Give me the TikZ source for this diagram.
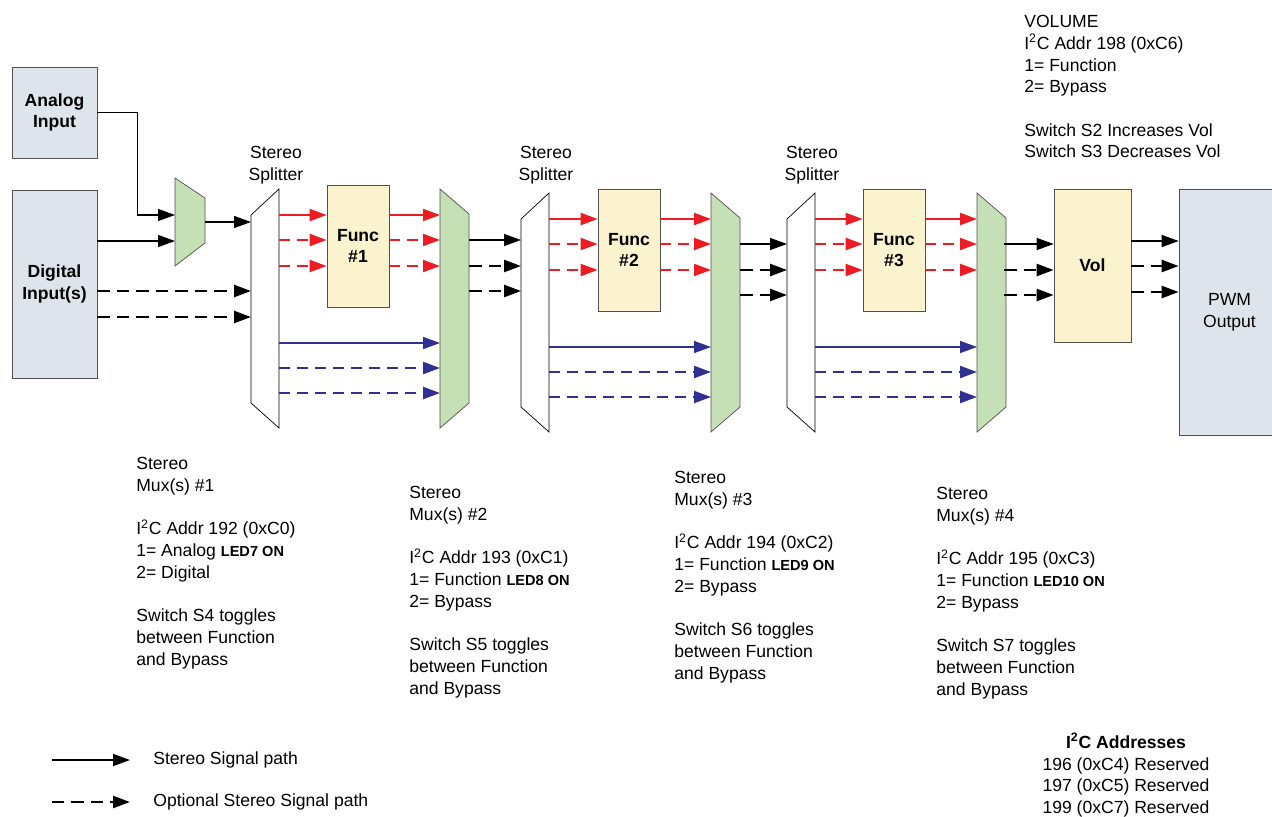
\documentclass[tikz,border=0pt]{standalone}
\usepackage{fontspec}
\setmainfont{Liberation Sans}
\usepackage{tikz}
\usetikzlibrary{arrows.meta}
\tikzset{>={Triangle[length=0.34cm,width=0.24cm]}}
\definecolor{inblue}{RGB}{221,228,236}
\definecolor{muxgreen}{RGB}{197,224,180}
\definecolor{funcyel}{RGB}{250,243,206}
\definecolor{sigred}{RGB}{237,28,36}
\definecolor{sigblue}{RGB}{46,49,146}
\definecolor{boxline}{RGB}{80,80,80}
\newcommand{\tenpt}{\fontsize{10}{12.36}\selectfont}
\newcommand{\ledon}[1]{{\fontsize{8.3}{9}\selectfont\bfseries LED#1 ON}}
\newcommand{\iic}{I\textsuperscript{2}C}

\begin{document}
\begin{tikzpicture}[x=0.02cm, y=-0.02cm, font=\tenpt]

  \tikzset{inbox/.style={draw=boxline, fill=inblue, inner sep=0pt, align=center, font=\tenpt\bfseries},
           fbox/.style={draw=boxline, fill=funcyel, inner sep=0pt, align=center, font=\tenpt\bfseries,
                        minimum width=1.24cm, minimum height=2.44cm},
           sig/.style={->, line width=0.7pt},
           opt/.style={->, line width=1.4pt, dash pattern=on 0.25cm off 0.14cm},
           rsig/.style={->, line width=1.1pt, sigred},
           ropt/.style={->, line width=1.2pt, sigred, dash pattern=on 0.22cm off 0.14cm},
           bsig/.style={->, line width=0.9pt, sigblue},
           bopt/.style={->, line width=1.2pt, sigblue, dash pattern=on 0.22cm off 0.14cm},
           txt/.style={anchor=north west, inner sep=0pt, align=left}}

  \useasboundingbox (0,0) rectangle (1272,816);

  % inputs
  \node[inbox, minimum width=1.7cm, minimum height=1.82cm] (ana) at (54.5,112.5) {Analog\\Input};
  \node[inbox, minimum width=1.7cm, minimum height=3.76cm] (dig) at (54.5,284) {Digital\\Input(s)};

  % input mux
  \draw[draw=boxline, fill=muxgreen] (175,178) -- (205,198) -- (205,243) -- (175,266) -- cycle;
  \coordinate (m0a) at (175,215);
  \coordinate (m0d) at (175,241);
  \coordinate (m0o) at (205,222);
  \coordinate (s1i) at (251,222);
  \coordinate (s1d1) at (251,291);
  \coordinate (s1d2) at (251,317);
  \draw[sig] (ana.east) -- ++(40,0) |- (m0a);
  \draw[sig] (dig.east |- m0d) -- (m0d);
  \draw[sig] (m0o) -- (s1i);
  \draw[opt] (dig.east |- s1d1) -- (s1d1);
  \draw[opt] (dig.east |- s1d2) -- (s1d2);

  % splitter, function block and mux for each stage
  \foreach \n/\sx/\fx/\mx/\dy in {1/251/327/440/-4, 2/521/598/711/0, 3/787/863/977/0} {
    \draw[fill=white] (\sx,219+\dy) -- (\sx+28,193+\dy) -- (\sx+28,432+\dy) -- (\sx,407+\dy) -- cycle;
    \node[align=center, anchor=north, inner sep=0pt] (sl\n) at (\sx+25,146) {Stereo\\Splitter};
    \node[fbox] (f\n) at (\fx+31,250+\dy) {Func\\\#\n};
    \draw[draw=boxline, fill=muxgreen] (\mx,193+\dy) -- (\mx+29,218+\dy) -- (\mx+29,407+\dy) -- (\mx,432+\dy) -- cycle;

    % red half goes through the function
    \foreach \y/\st in {219/rsig, 244/ropt, 270/ropt} {
      \coordinate (a) at (\sx+28,\y+\dy);
      \coordinate (b) at (\mx,\y+\dy);
      \draw[\st] (a) -- (a -| f\n.west);
      \draw[\st] (a -| f\n.east) -- (b);
    }
    % blue half bypasses it
    \foreach \y/\st in {347/bsig, 372/bopt, 397/bopt} {
      \coordinate (a) at (\sx+28,\y+\dy);
      \coordinate (b) at (\mx,\y+\dy);
      \draw[\st] (a) -- (b);
    }
  }

  % volume and output
  \node[fbox, minimum width=1.54cm, minimum height=3.06cm] (vol) at (1092.5,265.5) {Vol};
  \node[inbox, font=\tenpt, minimum width=2.02cm, minimum height=4.92cm] (pwm) at (1229.5,312) {PWM\\Output};

  % mux outputs into the next stage
  \foreach \mx/\nx/\dy in {469/521/-4, 740/787/0} {
    \foreach \y/\st in {244/sig, 270/opt, 295/opt} {
      \coordinate (a) at (\mx,\y+\dy);
      \coordinate (b) at (\nx,\y+\dy);
      \draw[\st] (a) -- (b);
    }
  }
  \foreach \y/\st in {244/sig, 270/opt, 295/opt} {
    \coordinate (a) at (1004,\y);
    \draw[\st] (a) -- (a -| vol.west);
  }
  \foreach \y/\st in {241/sig, 266/opt, 292/opt} {
    \coordinate (a) at (1131,\y);
    \draw[\st] (a) -- (a -| pwm.west);
  }

  % notes
  \node[txt] (vtxt) at (1024,15) {VOLUME\\\iic{} Addr 198 (0xC6)\\1= Function\\2= Bypass\\[12.36pt]Switch S2 Increases Vol\\Switch S3 Decreases Vol};
  \node[txt] (mtxt1) at (136,457) {Stereo\\Mux(s) \#1\\[12.36pt]\iic{} Addr 192 (0xC0)\\1= Analog \ledon{7}\\2= Digital\\[12.36pt]Switch S4 toggles\\between Function\\and Bypass};
  \foreach \n/\x/\y/\a/\h/\l/\s in {2/409/486/193/C1/8/5, 3/674/471/194/C2/9/6, 4/936/487/195/C3/10/7} {
    \node[txt] (mtxt\n) at (\x,\y) {Stereo\\Mux(s) \#\n\\[12.36pt]\iic{} Addr \a{} (0x\h)\\1= Function \ledon{\l}\\2= Bypass\\[12.36pt]Switch S\s{} toggles\\between Function\\and Bypass};
  }
  \node[align=center, anchor=north, inner sep=0pt] (addr) at (1126,733) {\textbf{\iic{} Addresses}\\196 (0xC4) Reserved\\197 (0xC5) Reserved\\199 (0xC7) Reserved};

  % legend
  \coordinate (l1a) at (52,760);
  \coordinate (l1b) at (130,760);
  \coordinate (l2a) at (52,802);
  \coordinate (l2b) at (130,802);
  \draw[sig, line width=1pt] (l1a) -- (l1b);
  \draw[opt] (l2a) -- (l2b);
  \node[anchor=west, inner sep=0pt] (lg1) at (153,760) {Stereo Signal path};
  \node[anchor=west, inner sep=0pt] (lg2) at (153,802) {Optional Stereo Signal path};

\end{tikzpicture}
\end{document}
